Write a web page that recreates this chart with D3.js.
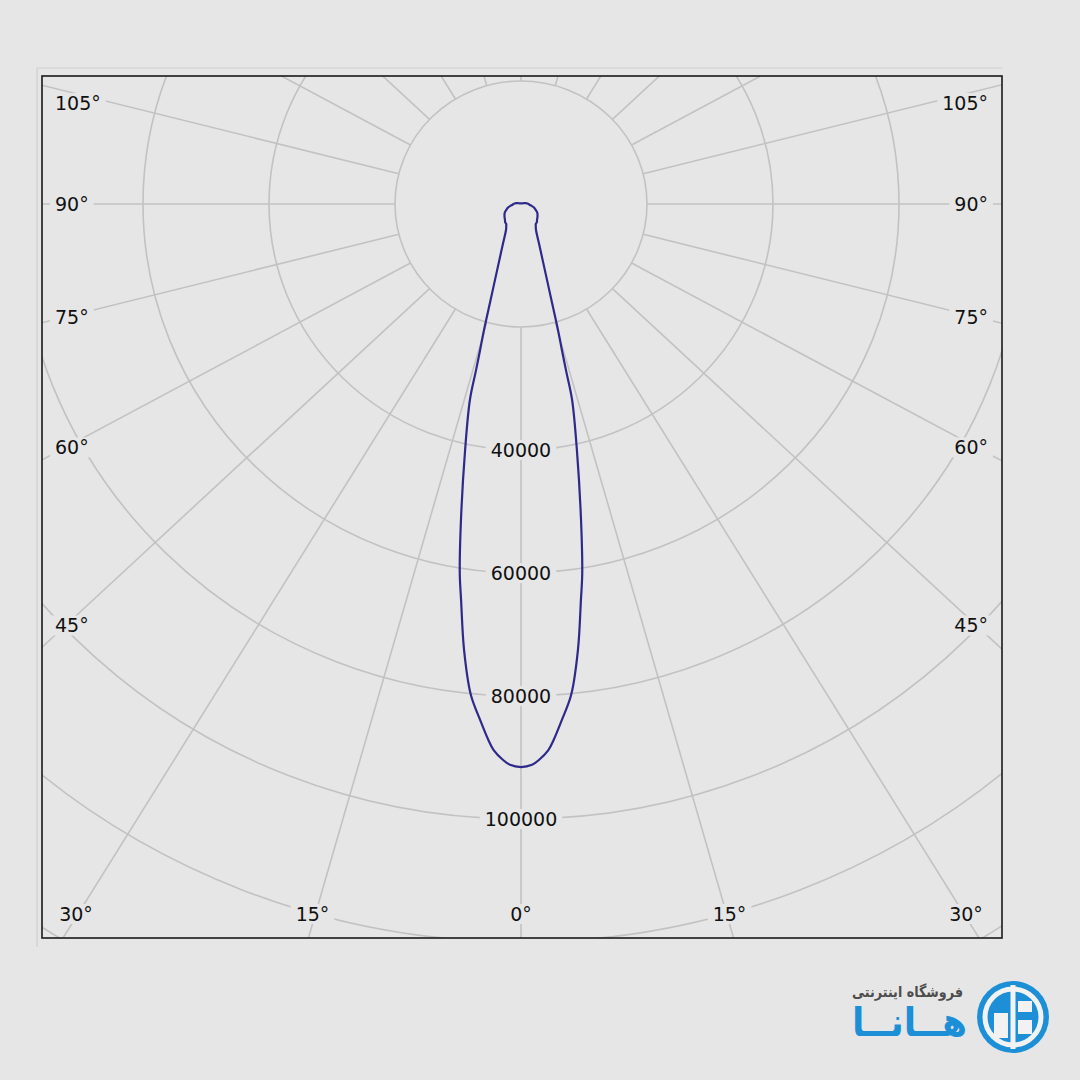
<!DOCTYPE html>
<html>
<head>
<meta charset="utf-8">
<script src="https://cdn.jsdelivr.net/npm/d3@7"></script>
<style>
  html, body { margin: 0; padding: 0; background: #e6e6e6; }
  svg { display: block; }
</style>
</head>
<body>
<svg id="chart" width="1080" height="1080"></svg>
<script>
// ---- data (luminous intensity, cd, vs angle from nadir) ----
const angles = [0, 1.1, 1.8, 2.8, 3.4, 4.4, 5.7, 7.1, 8.4, 9.2, 10.5, 12.5, 14.3, 14.8, 15.3,
                16, 17.2, 19.4, 22.4, 25, 29.4, 33, 36, 40, 45, 50, 55, 60, 65, 70, 75, 80, 85, 90,
                95, 100, 105, 110, 120, 135, 150, 165, 180];
const intensity = [91550, 91200, 90450, 88900, 87300, 84200, 80200, 73100, 65100, 60800, 52300,
                   41000, 32800, 27900, 24600, 21300, 16300, 11400, 8100, 6450, 4850, 4300, 4000,
                   3900, 3600, 3400, 3200, 3000, 2700, 2400, 2100, 1700, 1350, 1200,
                   1000, 800, 500, 350, 200, 150, 120, 100, 100];
const ringValues = [20000, 40000, 60000, 80000, 100000, 120000, 140000, 160000];
const ringLabels = [40000, 60000, 80000, 100000];
const spokeAngles = [0, 15, 30, 45, 60, 75, 90, 105, 120, 135, 150, 165, 180];

// ---- layout ----
const svg = d3.select("#chart");
const bg = "#e6e6e6";
const frame = {x0: 42, y0: 76, x1: 1002, y1: 938};
const cx = 521, cy = 204;
const rX = d3.scaleLinear().domain([0, 20000]).range([0, 126]);
const rY = d3.scaleLinear().domain([0, 20000]).range([0, 123]);
const spokeAspect = 1.055;
const gridColor = "#c2c2c2";
const font = "'DejaVu Sans', Verdana, sans-serif";

svg.append("rect").attr("width", 1080).attr("height", 1080).attr("fill", bg);

// outer light border
svg.append("line").attr("x1", 37).attr("y1", 68).attr("x2", 1003).attr("y2", 68)
  .attr("stroke", "#cfcfcf").attr("stroke-width", 1.2);
svg.append("line").attr("x1", 37).attr("y1", 68).attr("x2", 37).attr("y2", 947)
  .attr("stroke", "#cfcfcf").attr("stroke-width", 1.2);

svg.append("defs").append("clipPath").attr("id", "plotClip")
  .append("rect").attr("x", frame.x0).attr("y", frame.y0)
  .attr("width", frame.x1 - frame.x0).attr("height", frame.y1 - frame.y0);

const plot = svg.append("g").attr("clip-path", "url(#plotClip)");

// rings
plot.selectAll("ellipse.ring").data(ringValues).join("ellipse")
  .attr("class", "ring")
  .attr("cx", cx).attr("cy", cy)
  .attr("rx", d => rX(d)).attr("ry", d => rY(d))
  .attr("fill", "none").attr("stroke", gridColor).attr("stroke-width", 1.6);

// direction (pixels) for angle theta (deg from nadir), side = +1 right / -1 left
function dirFor(theta, side, aspect) {
  const t = theta * Math.PI / 180;
  let dx = side * Math.sin(t) * 126 * aspect, dy = Math.cos(t) * 123;
  const n = Math.hypot(dx, dy);
  return [dx / n, dy / n];
}
function innerT(d) {
  return 1 / Math.sqrt((d[0] / rX(20000)) ** 2 + (d[1] / rY(20000)) ** 2);
}
const spokes = [];
spokeAngles.forEach(a => {
  if (a === 0 || a === 180) spokes.push({a, side: 1});
  else { spokes.push({a, side: 1}); spokes.push({a, side: -1}); }
});
plot.selectAll("line.spoke").data(spokes).join("line")
  .attr("class", "spoke")
  .each(function(s) {
    const d = dirFor(s.a, s.side, spokeAspect);
    const t0 = innerT(d), t1 = 2000;
    d3.select(this)
      .attr("x1", cx + d[0] * t0).attr("y1", cy + d[1] * t0)
      .attr("x2", cx + d[0] * t1).attr("y2", cy + d[1] * t1);
  })
  .attr("stroke", gridColor).attr("stroke-width", 1.6);

// labels with background masks
const labelLayer = svg.append("g");
function addLabel(x, y, text, anchor) {
  const g = labelLayer.append("g");
  const r = g.append("rect").attr("fill", bg);
  const t = g.append("text").attr("x", x).attr("y", y)
    .attr("text-anchor", anchor).attr("dominant-baseline", "central")
    .attr("font-family", font).attr("font-size", 19).attr("fill", "#111").text(text);
  const b = t.node().getBBox();
  r.attr("x", b.x - 5).attr("y", b.y + 1).attr("width", b.width + 10).attr("height", b.height - 2);
}

// radial value labels
ringLabels.forEach(v => addLabel(cx, cy + rY(v), d3.format("d")(v), "middle"));

// angle labels placed along each direction, on an inset rectangle
const inset = {left: 72, right: 970, bottom: 914, top: 103};
spokes.forEach(s => {
  const ds = dirFor(s.a, s.side, 1.04);
  const db = dirFor(s.a, s.side, 1.07);
  const txt = s.a + "°";
  // bottom side?
  if (db[1] > 0) {
    const tb = (inset.bottom - cy) / db[1];
    const xb = cx + db[0] * tb;
    if (xb >= inset.left - 20 && xb <= inset.right + 20) {
      addLabel(Math.max(inset.left + 4, Math.min(inset.right - 4, xb)), inset.bottom, txt, "middle");
      return;
    }
  }
  if (ds[0] === 0) return;
  const xs = ds[0] < 0 ? inset.left : inset.right;
  const ts = (xs - cx) / ds[0];
  let ys = cy + ds[1] * ts;
  if (ys < inset.top - 20) return;           // would fall on the top edge: no label
  ys = Math.max(ys, inset.top);
  if (ds[0] < 0) addLabel(55, ys, txt, "start");
  else addLabel(988, ys, txt, "end");
});

// intensity curve (symmetric)
const right = angles.map((a, i) => ({a, v: intensity[i], side: 1}));
const left = angles.map((a, i) => ({a, v: intensity[i], side: -1})).slice(1, -1).reverse();
const pts = right.concat(left).map(p => {
  const t = p.a * Math.PI / 180;
  return [cx + p.side * Math.sin(t) * rX(p.v), cy + Math.cos(t) * rY(p.v)];
});
svg.append("path")
  .attr("d", d3.line().curve(d3.curveCatmullRomClosed.alpha(0.5))(pts))
  .attr("fill", "none").attr("stroke", "#2e2a8a").attr("stroke-width", 2.2)
  .attr("stroke-linejoin", "round");

// frame
svg.append("rect").attr("x", frame.x0).attr("y", frame.y0)
  .attr("width", frame.x1 - frame.x0).attr("height", frame.y1 - frame.y0)
  .attr("fill", "none").attr("stroke", "#1a1a1a").attr("stroke-width", 1.6);

// logo
const blue = "#1d8fd6";
const logo = svg.append("g");
logo.append("text").attr("x", 963).attr("y", 992).attr("text-anchor", "end")
  .attr("dominant-baseline", "central")
  .attr("font-family", font).attr("font-weight", "bold").attr("font-size", 15)
  .attr("textLength", 111).attr("lengthAdjust", "spacingAndGlyphs")
  .attr("fill", "#4d4d4d").text("فروشگاه اینترنتی");
logo.append("text").attr("x", 967).attr("y", 1036).attr("text-anchor", "end")
  .attr("font-family", font).attr("font-weight", "bold").attr("font-size", 40)
  .attr("textLength", 115).attr("lengthAdjust", "spacingAndGlyphs")
  .attr("fill", blue).text("هــانــا");
const lc = {x: 1013, y: 1017, r: 36};
logo.append("circle").attr("cx", lc.x).attr("cy", lc.y).attr("r", lc.r).attr("fill", blue);
logo.append("circle").attr("cx", lc.x).attr("cy", lc.y).attr("r", lc.r - 8)
  .attr("fill", "none").attr("stroke", "#f2f2f2").attr("stroke-width", 5);
logo.append("line").attr("x1", lc.x).attr("y1", lc.y - lc.r + 4).attr("x2", lc.x).attr("y2", lc.y + lc.r - 4)
  .attr("stroke", "#f2f2f2").attr("stroke-width", 5);
logo.append("rect").attr("x", lc.x - 19).attr("y", lc.y - 4).attr("width", 14).attr("height", 25).attr("fill", "#f2f2f2");
logo.append("rect").attr("x", lc.x + 5).attr("y", lc.y - 16).attr("width", 14).attr("height", 11).attr("fill", "#f2f2f2");
logo.append("rect").attr("x", lc.x + 5).attr("y", lc.y + 3).attr("width", 14).attr("height", 14).attr("fill", "#f2f2f2");
</script>
</body>
</html>
